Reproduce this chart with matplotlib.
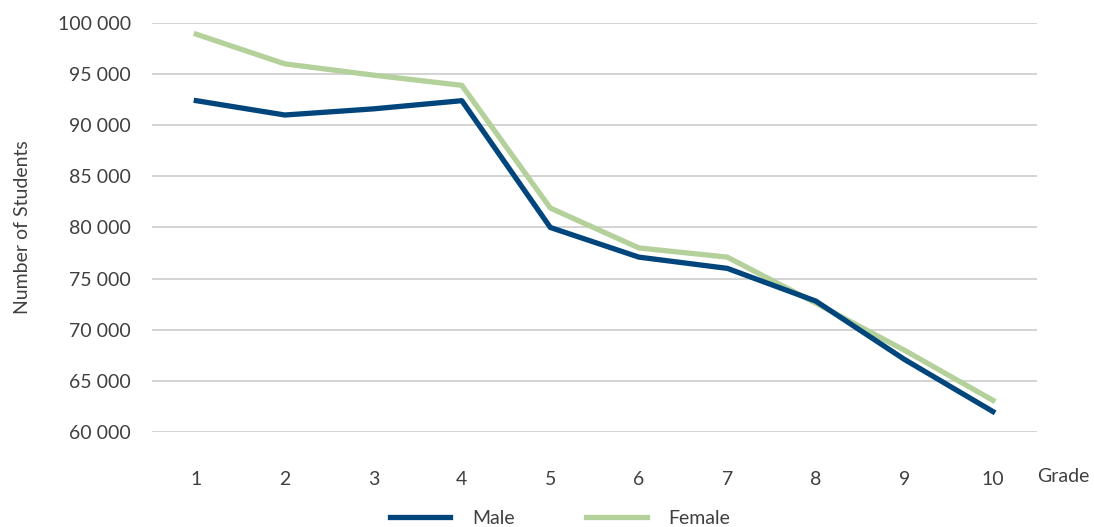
import matplotlib.pyplot as plt
from matplotlib.ticker import FuncFormatter

plt.rcParams['font.family'] = ['Lato', 'DejaVu Sans']

# data
grades = [1, 2, 3, 4, 5, 6, 7, 8, 9, 10]
male = [92400, 91000, 91600, 92400, 80000, 77100, 76000, 72800, 67100, 62000]
female = [98900, 96000, 94900, 93900, 81900, 78000, 77100, 72600, 68000, 63100]
y_ticks = [60000, 65000, 70000, 75000, 80000, 85000, 90000, 95000, 100000]

text_col = '#404040'

fig = plt.figure(figsize=(10.94, 5.27), dpi=100)
ax = fig.add_axes([0.139, 0.1803, 0.809, 0.7761])

ax.plot(grades, male, color='#00467c', lw=3.8, label='Male', zorder=3)
ax.plot(grades, female, color='#b4d09b', lw=3.8, label='Female', zorder=2)

ax.set_xlim(0.5, 10.5)
ax.set_ylim(60000, 100000)
ax.set_yticks(y_ticks)
ax.set_xticks(grades)
ax.yaxis.set_major_formatter(FuncFormatter(lambda v, p: f"{int(v):,}".replace(',', ' ')))

ax.grid(axis='y', color='#c8c8c8', lw=1.1)
ax.set_axisbelow(True)
for s in ax.spines.values():
    s.set_visible(False)
ax.tick_params(axis='both', length=0, labelsize=14, colors=text_col)
ax.tick_params(axis='x', pad=28)
ax.tick_params(axis='y', pad=15)

ax.set_ylabel('Number of Students', fontsize=14, color=text_col)
ax.yaxis.set_label_coords(-0.137, 0.5)
fig.text(1063 / 1094, 1 - 476 / 527, 'Grade', fontsize=14, color=text_col,
         ha='center', va='center')

leg = fig.legend(loc='center', bbox_to_anchor=(560 / 1094, 1 - 518 / 527), ncol=2,
                 frameon=False, fontsize=14, handlelength=3.1, columnspacing=3.7,
                 handletextpad=1.1)
for t in leg.get_texts():
    t.set_color(text_col)

fig.savefig('out.png', dpi=100)
